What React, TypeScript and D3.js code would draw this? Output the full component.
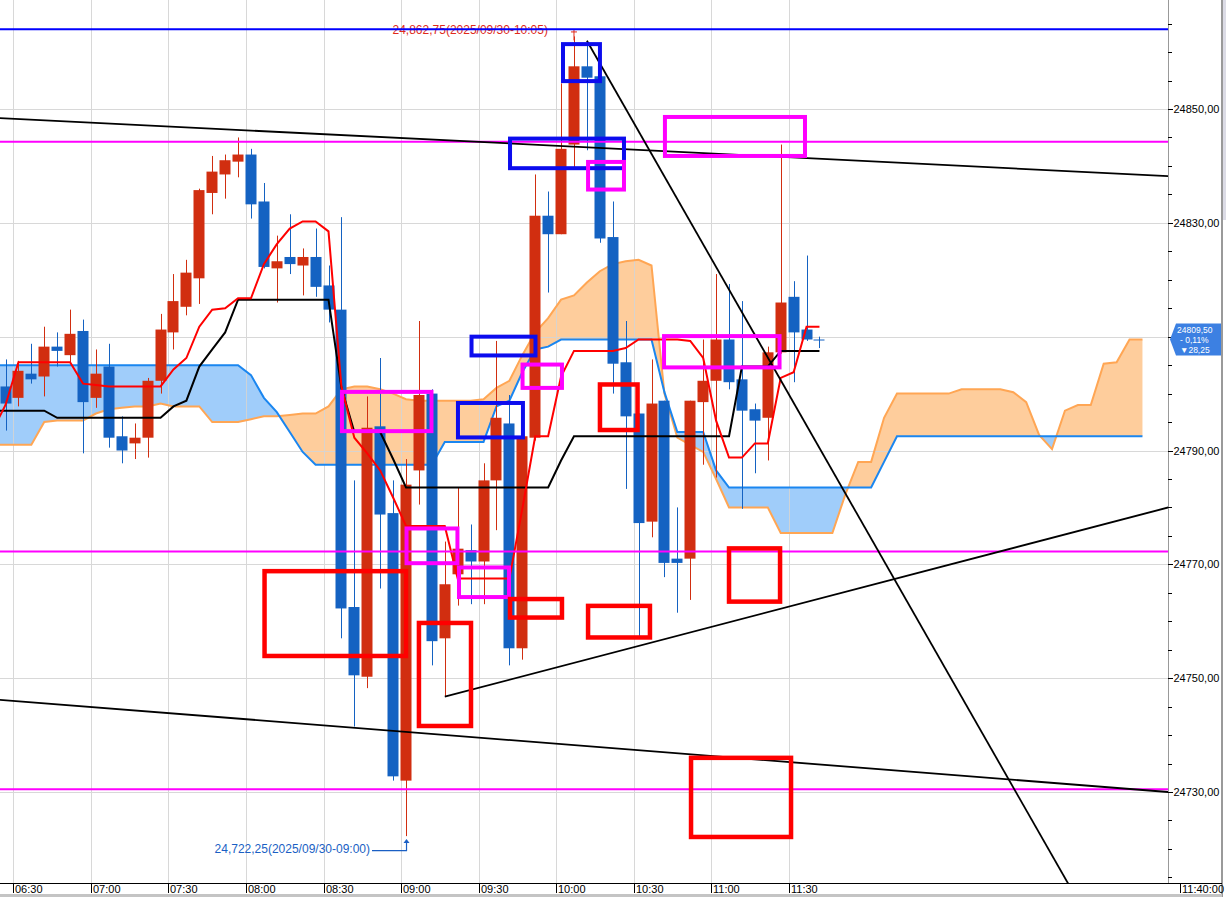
import React from "react";
import * as d3 from "d3";

// ---------- DATA ----------
const firstBarTime = "06:25";
const barMinutes = 5;

const opens = [24801.25,24799.25,24803.5,24803.0,24808.25,24806.75,24811.0,24799.25,24804.75,24792.5,24791.25,24792.25,24802.25,24810.75,24815.25,24820.25,24835.25,24838.5,24840.75,24842.0,24833.75,24822.0,24824.0,24822.5,24824.0,24819.0,24814.75,24762.5,24750.25,24794.25,24779.0,24732.0,24786.5,24800.0,24757.0,24768.25,24772.5,24770.5,24784.75,24794.75,24755.25,24792.25,24831.25,24828.0,24843.75,24857.5,24855.75,24827.5,24805.5,24796.5,24777.5,24798.75,24771.0,24771.0,24798.5,24802.25,24809.5,24802.5,24797.25,24795.75,24807.25,24817.0,24811.25,24809.5];
const highs = [24806.0,24805.75,24808.75,24811.75,24810.75,24814.75,24813.0,24807.75,24808.75,24796.0,24794.75,24802.75,24814.0,24821.0,24823.5,24836.0,24841.75,24842.0,24845.0,24843.0,24837.0,24827.75,24831.5,24825.5,24829.0,24822.5,24831.0,24784.75,24799.5,24806.25,24784.75,24788.5,24812.75,24800.75,24774.0,24783.5,24777.0,24787.75,24809.25,24799.75,24792.5,24838.5,24835.5,24854.5,24862.75,24862.0,24855.75,24833.75,24812.75,24796.5,24806.0,24798.75,24780.0,24798.75,24809.5,24821.0,24819.25,24816.25,24798.25,24808.25,24843.75,24819.75,24824.25,24810.0];
const lows = [24793.5,24797.75,24801.75,24799.5,24804.75,24805.5,24789.5,24797.5,24790.5,24787.75,24788.5,24788.75,24800.0,24807.75,24813.75,24815.75,24831.5,24834.25,24838.0,24830.75,24822.0,24816.0,24821.0,24817.25,24817.0,24812.5,24757.0,24741.5,24748.25,24765.75,24732.0,24722.25,24780.5,24752.25,24746.75,24762.75,24763.0,24763.0,24776.0,24752.25,24753.25,24791.75,24817.75,24828.0,24839.75,24842.75,24826.5,24800.0,24783.25,24757.0,24774.75,24767.75,24761.5,24763.75,24787.5,24785.25,24800.75,24779.75,24786.0,24788.25,24807.0,24802.0,24809.25,24808.0];
const closes = [24798.25,24804.0,24802.5,24808.25,24807.5,24810.5,24798.5,24803.5,24792.25,24790.0,24792.25,24802.25,24811.25,24816.25,24821.25,24835.75,24839.0,24841.0,24842.0,24833.25,24822.25,24823.25,24822.75,24824.0,24818.75,24814.75,24762.25,24750.5,24794.0,24778.75,24732.75,24784.0,24799.75,24756.5,24766.5,24772.75,24770.5,24784.75,24795.75,24755.25,24792.5,24831.25,24828.0,24843.0,24857.5,24855.5,24827.25,24805.25,24796.0,24777.25,24798.25,24770.25,24770.25,24798.75,24802.25,24809.5,24802.0,24797.0,24795.25,24807.25,24816.0,24810.75,24809.5,24809.5];

// Ichimoku lines, first value belongs to bar index -1
const lineStart = -1;
const tenkan = [24793.5,24798.0,24805.5,24805.5,24805.5,24805.5,24805.5,24801.75,24801.5,24801.25,24801.25,24801.25,24801.25,24801.25,24804.25,24806.25,24811.75,24814.75,24815.0,24816.75,24816.75,24822.75,24826.25,24829.0,24830.25,24830.25,24828.5,24801.25,24792.25,24789.5,24786.5,24781.75,24776.75,24776.75,24776.75,24776.75,24767.5,24767.5,24767.5,24767.5,24767.5,24779.75,24792.5,24792.5,24803.0,24807.5,24807.5,24807.5,24807.5,24808.0,24809.5,24809.5,24809.5,24809.5,24809.25,24806.25,24795.25,24788.75,24788.75,24791.25,24791.25,24802.75,24803.75,24811.75,24811.75];
const kijun = [24797.0,24797.0,24797.0,24797.0,24797.0,24795.75,24795.75,24795.75,24795.75,24795.75,24795.75,24795.75,24795.75,24795.75,24797.75,24798.75,24804.75,24807.75,24810.75,24816.5,24816.5,24816.5,24816.5,24816.5,24816.5,24816.5,24816.5,24801.0,24793.25,24793.25,24793.25,24788.5,24783.5,24783.5,24783.5,24783.5,24783.5,24783.5,24783.5,24783.5,24783.5,24783.5,24783.5,24783.5,24788.25,24792.5,24792.5,24792.5,24792.5,24792.5,24792.5,24792.5,24792.5,24792.5,24792.5,24792.5,24792.5,24792.5,24804.75,24804.75,24804.75,24807.5,24807.5,24807.5,24807.5];
// leading span 1 (orange) and leading span 2 (blue), bar index -1 .. 88
const span1 = [24791.0,24791.0,24791.0,24791.0,24795.0,24795.25,24795.25,24795.25,24796.5,24797.25,24797.5,24797.75,24797.75,24798.25,24797.75,24797.75,24797.75,24795.0,24795.0,24795.0,24795.5,24796.0,24796.0,24796.25,24796.5,24796.5,24797.75,24800.75,24801.25,24801.25,24800.75,24800.0,24799.0,24798.75,24798.75,24798.75,24798.75,24798.75,24799.0,24801.0,24802.25,24806.75,24810.75,24813.25,24816.5,24817.25,24819.5,24821.5,24822.75,24823.25,24823.5,24822.5,24800.0,24792.25,24791.0,24789.75,24785.0,24780.0,24780.0,24780.0,24780.0,24775.5,24775.5,24775.5,24775.5,24775.5,24782.25,24788.0,24788.0,24795.75,24800.0,24800.0,24800.0,24800.0,24800.0,24800.75,24800.75,24800.75,24800.75,24800.25,24798.5,24792.75,24790.25,24797.0,24798.0,24798.0,24805.25,24805.5,24809.5,24809.5];
const span2 = [24805.0,24805.0,24805.0,24805.0,24805.0,24805.0,24805.0,24805.0,24805.0,24805.0,24805.0,24805.0,24805.0,24805.0,24805.0,24805.0,24805.0,24805.0,24805.0,24805.0,24803.25,24799.25,24796.75,24793.25,24789.75,24787.5,24787.5,24787.5,24787.5,24787.5,24787.5,24787.5,24787.5,24787.5,24787.5,24791.5,24791.5,24791.5,24791.5,24797.75,24798.75,24803.75,24807.75,24808.25,24809.5,24809.5,24809.5,24809.5,24809.5,24809.5,24809.5,24809.5,24800.25,24793.25,24793.25,24793.25,24786.5,24783.5,24783.5,24783.5,24783.5,24783.5,24783.5,24783.5,24783.5,24783.5,24783.5,24783.5,24783.5,24788.0,24792.5,24792.5,24792.5,24792.5,24792.5,24792.5,24792.5,24792.5,24792.5,24792.5,24792.5,24792.5,24792.5,24792.5,24792.5,24792.5,24792.5,24792.5,24792.5,24792.5];

const timeLabels = ["06:30","07:00","07:30","08:00","08:30","09:00","09:30","10:00","10:30","11:00","11:30"];
const endTimeLabel = "11:40:00";
const priceTicks = [24730, 24750, 24770, 24790, 24810, 24830, 24850];

const highLevel = 24864.0;
const magentaLevels = [24844.25, 24772.25, 24730.5];

// trend lines: [barIndex, price] pairs
const trendLines = [
  [[-0.43, 24848.4], [90, 24838.2]],
  [[-0.43, 24746.2], [90, 24730.0]],
  [[34.0, 24746.75], [90, 24780.0]],
  [[45.0, 24862.0], [86, 24699.0]],
];

// boxes: [i0, i1, pTop, pBottom]
const blueBoxes = [
  [43.15, 46.01, 24861.4, 24854.9],
  [39.05, 47.87, 24844.8, 24839.6],
  [36.07, 41.02, 24810.0, 24806.7],
  [35.02, 40.05, 24798.35, 24792.3],
];
const magentaBoxes = [
  [26.04, 32.97, 24800.3, 24793.4],
  [31.04, 34.98, 24776.3, 24770.2],
  [35.1, 38.97, 24769.45, 24764.25],
  [40.02, 43.07, 24805.1, 24801.0],
  [45.09, 47.87, 24840.7, 24835.85],
  [51.04, 61.88, 24848.6, 24841.75],
  [50.97, 59.91, 24810.1, 24804.6],
];
const redBoxes = [
  [20.05, 31.0, 24768.8, 24753.9],
  [32.0, 36.03, 24759.7, 24741.6],
  [39.05, 43.07, 24763.9, 24760.65],
  [45.09, 49.88, 24762.7, 24757.15],
  [46.01, 48.92, 24801.6, 24793.6],
  [56.0, 59.95, 24772.8, 24763.45],
  [53.06, 60.8, 24736.0, 24722.1],
];

const highNote = { bar: 44, price: 24862.75, text: "24,862,75(2025/09/30-10:05)" };
const lowNote = { bar: 31, price: 24722.25, text: "24,722,25(2025/09/30-09:00)" };
const lastInfo = ["24809,50", "- 0,11%", "\u25BC28,25"];
const lastPrice = 24809.5;

// ---------- LAYOUT ----------
const W = 1226, H = 897;
const PR = 1168, PB = 883;
const FONT = "'Liberation Sans', Arial, sans-serif";
const C_UP = "#d12e10", C_DN = "#1462c2";

const x = d3.scaleLinear().domain([0, 88]).range([5.5, 5.5 + 88 * 12.92]);
const y = d3.scaleLinear().domain([24730, 24850]).range([792, 109]);

const toMin = (s: string) => { const [h, m] = s.split(":").map(Number); return h * 60 + m; };
const timeIndex = (s: string) => (toMin(s) - toMin(firstBarTime)) / barMinutes;

type P = { i: number; p: number };
const series = (arr: number[], start: number): P[] => arr.map((p, k) => ({ i: start + k, p }));
const lineGen = d3.line<P>().x(d => x(d.i)).y(d => y(d.p));

function cloudPts(a: number[], b: number[], start: number) {
  const out: { i: number; a: number; b: number }[] = [];
  for (let k = 0; k < a.length; k++) {
    if (k > 0) {
      const d0 = a[k - 1] - b[k - 1], d1 = a[k] - b[k];
      if (d0 * d1 < 0) {
        const t = d0 / (d0 - d1);
        const pv = a[k - 1] + t * (a[k] - a[k - 1]);
        out.push({ i: start + k - 1 + t, a: pv, b: pv });
      }
    }
    out.push({ i: start + k, a: a[k], b: b[k] });
  }
  return out;
}

export default function App() {
  const cp = cloudPts(span1, span2, lineStart);
  const orangeArea = d3.area<{ i: number; a: number; b: number }>()
    .x(d => x(d.i)).y0(d => y(d.b)).y1(d => y(Math.max(d.a, d.b)))(cp) || "";
  const blueArea = d3.area<{ i: number; a: number; b: number }>()
    .x(d => x(d.i)).y0(d => y(d.a)).y1(d => y(Math.max(d.a, d.b)))(cp) || "";

  const minorTicks = d3.range(24715, 24871, 5).filter(v => y(v) > 2 && y(v) < PB - 2);
  const fmt = (v: number) => v.toFixed(2).replace(".", ",");

  const box = (b: number[], color: string, sw: number, k: number) => (
    <rect key={color + k} x={x(b[0])} y={y(b[2])} width={x(b[1]) - x(b[0])} height={y(b[3]) - y(b[2])}
      fill="none" stroke={color} strokeWidth={sw} />
  );

  const hx = x(highNote.bar), hy = y(highNote.price);
  const lx = x(lowNote.bar), ly = y(lowNote.price);
  const cy = y(lastPrice);
  // axis labels hidden under the current-price tag are not drawn
  const visibleLabels = priceTicks.filter(v => Math.abs(y(v) - cy) > 18);

  return (
    <svg width={W} height={H} style={{ position: "fixed", left: 0, top: 0, display: "block", background: "#fff" }}
      fontFamily={FONT}>
      <defs>
        <clipPath id="plot"><rect x={0} y={0} width={PR} height={PB} /></clipPath>
      </defs>
      <rect x={0} y={0} width={W} height={H} fill="#fff" />
      <g clipPath="url(#plot)">
        {/* cloud fills */}
        <path d={orangeArea} fill="#fecd9c" />
        <path d={blueArea} fill="#a0cdfa" />
        {/* grid */}
        <g stroke="#d4d4d4" strokeWidth={1} shapeRendering="crispEdges" opacity={0.9}>
          {priceTicks.map(v => <line key={v} x1={0} x2={PR} y1={Math.round(y(v)) + 0.5} y2={Math.round(y(v)) + 0.5} />)}
          {timeLabels.map(t => {
            const gx = Math.round(x(timeIndex(t)) - 5) + 0.5;
            return <line key={t} x1={gx} x2={gx} y1={0} y2={PB} />;
          })}
        </g>
        {/* cloud lines */}
        <path d={lineGen(series(span1, lineStart)) || ""} fill="none" stroke="#ffa654" strokeWidth={2} />
        <path d={lineGen(series(span2, lineStart)) || ""} fill="none" stroke="#1a86f0" strokeWidth={2} />
        {/* candles */}
        {opens.map((o, k) => {
          const c = closes[k];
          const col = c > o ? C_UP : C_DN;
          const cx = Math.round(x(k)) + 0.5;
          const top = y(Math.max(o, c)), bot = y(Math.min(o, c));
          return (
            <g key={k}>
              <line x1={cx} x2={cx} y1={y(highs[k])} y2={y(lows[k])} stroke={col} strokeWidth={1} />
              <rect x={cx - 6} y={top} width={11} height={Math.max(1, bot - top)} fill={col} />
            </g>
          );
        })}
        {/* tenkan & kijun */}
        <path d={lineGen(series(kijun, lineStart)) || ""} fill="none" stroke="#000" strokeWidth={2} />
        <path d={lineGen(series(tenkan, lineStart)) || ""} fill="none" stroke="#ff0000" strokeWidth={2} />
        {/* high annotation text (under the blue level line) */}
        <text x={hx - 26} y={hy - 2} textAnchor="end" fontSize={12} fill="#e02a1a">{highNote.text}</text>
        <g stroke="#e02a1a" strokeWidth={1}>
          <line x1={hx} x2={hx} y1={hy - 7} y2={hy + 4} />
          <line x1={hx - 3} x2={hx + 3} y1={hy - 4.5} y2={hy - 4.5} />
        </g>
        {/* level lines */}
        <line x1={0} x2={PR} y1={y(highLevel)} y2={y(highLevel)} stroke="#0000ff" strokeWidth={2} />
        {magentaLevels.map(v => (
          <line key={v} x1={0} x2={PR} y1={y(v)} y2={y(v)} stroke="#ff00ff" strokeWidth={2} />
        ))}
        {/* trend lines */}
        {trendLines.map((tl, k) => (
          <line key={k} x1={x(tl[0][0])} y1={y(tl[0][1])} x2={x(tl[1][0])} y2={y(tl[1][1])} stroke="#000" strokeWidth={1.8} />
        ))}
        {/* boxes */}
        {blueBoxes.map((b, k) => box(b, "#0c0cee", 4, k))}
        {magentaBoxes.map((b, k) => box(b, "#ff00ff", 4, k))}
        {redBoxes.map((b, k) => box(b, "#ff0000", 4.5, k))}
        {/* low annotation */}
        <text x={lx - 36} y={ly + 16.5} textAnchor="end" fontSize={12} fill="#1a5fc4">{lowNote.text}</text>
        <polyline points={`${lx - 34},${ly + 14.5} ${lx + 0.5},${ly + 14.5} ${lx + 0.5},${ly + 6}`} fill="none" stroke="#1a5fc4" strokeWidth={1.2} />
        <polygon points={`${lx - 2.5},${ly + 7} ${lx + 3.5},${ly + 7} ${lx + 0.5},${ly + 3}`} fill="#1a5fc4" />
      </g>

      {/* y axis */}
      <line x1={PR + 0.5} x2={PR + 0.5} y1={0} y2={PB} stroke="#999" strokeWidth={1} />
      <g stroke="#000" strokeWidth={1} shapeRendering="crispEdges">
        {minorTicks.map(v => <line key={v} x1={PR} x2={PR + 4} y1={Math.round(y(v)) + 0.5} y2={Math.round(y(v)) + 0.5} />)}
        {priceTicks.map(v => <line key={"m" + v} x1={PR} x2={PR + 5} y1={Math.round(y(v)) + 0.5} y2={Math.round(y(v)) + 0.5} />)}
      </g>
      {visibleLabels.map(v => (
        <text key={"t" + v} x={PR + 5.5} y={y(v) + 4} fontSize={11} fill="#000">{fmt(v)}</text>
      ))}
      {/* current price tag */}
      <polygon points={`${PR + 2},${cy} ${PR + 8},${cy - 16} ${PR + 53},${cy - 16} ${PR + 53},${cy + 16} ${PR + 8},${cy + 16}`} fill="#3c80e2" />
      {lastInfo.map((s, k) => (
        <text key={s} x={k === 0 ? PR + 9 : PR + 12} y={cy - 7 + k * 10.2} fontSize={8.5} fill="#fff">{s}</text>
      ))}
      {/* right border */}
      <rect x={1223} y={0} width={3} height={220} fill="#dcdce6" />
      <line x1={1222} x2={1222} y1={0} y2={H} stroke="#9a9a9a" strokeWidth={2} />

      {/* x axis */}
      <line x1={0} x2={1222} y1={PB + 0.5} y2={PB + 0.5} stroke="#000" strokeWidth={1} />
      {timeLabels.map(t => {
        const gx = Math.round(x(timeIndex(t)) - 5) + 0.5;
        return (
          <g key={t}>
            <line x1={gx} x2={gx} y1={PB} y2={PB + 10} stroke="#000" strokeWidth={1} />
            <text x={gx + 1.5} y={PB + 10} fontSize={11} fill="#000">{t}</text>
          </g>
        );
      })}
      <line x1={1180.5} x2={1180.5} y1={PB} y2={PB + 10} stroke="#000" strokeWidth={1} />
      <text x={1182} y={PB + 10} fontSize={11} fill="#000">{endTimeLabel}</text>
      <rect x={0} y={894} width={1222} height={3} fill="#c4c4c4" />
    </svg>
  );
}
